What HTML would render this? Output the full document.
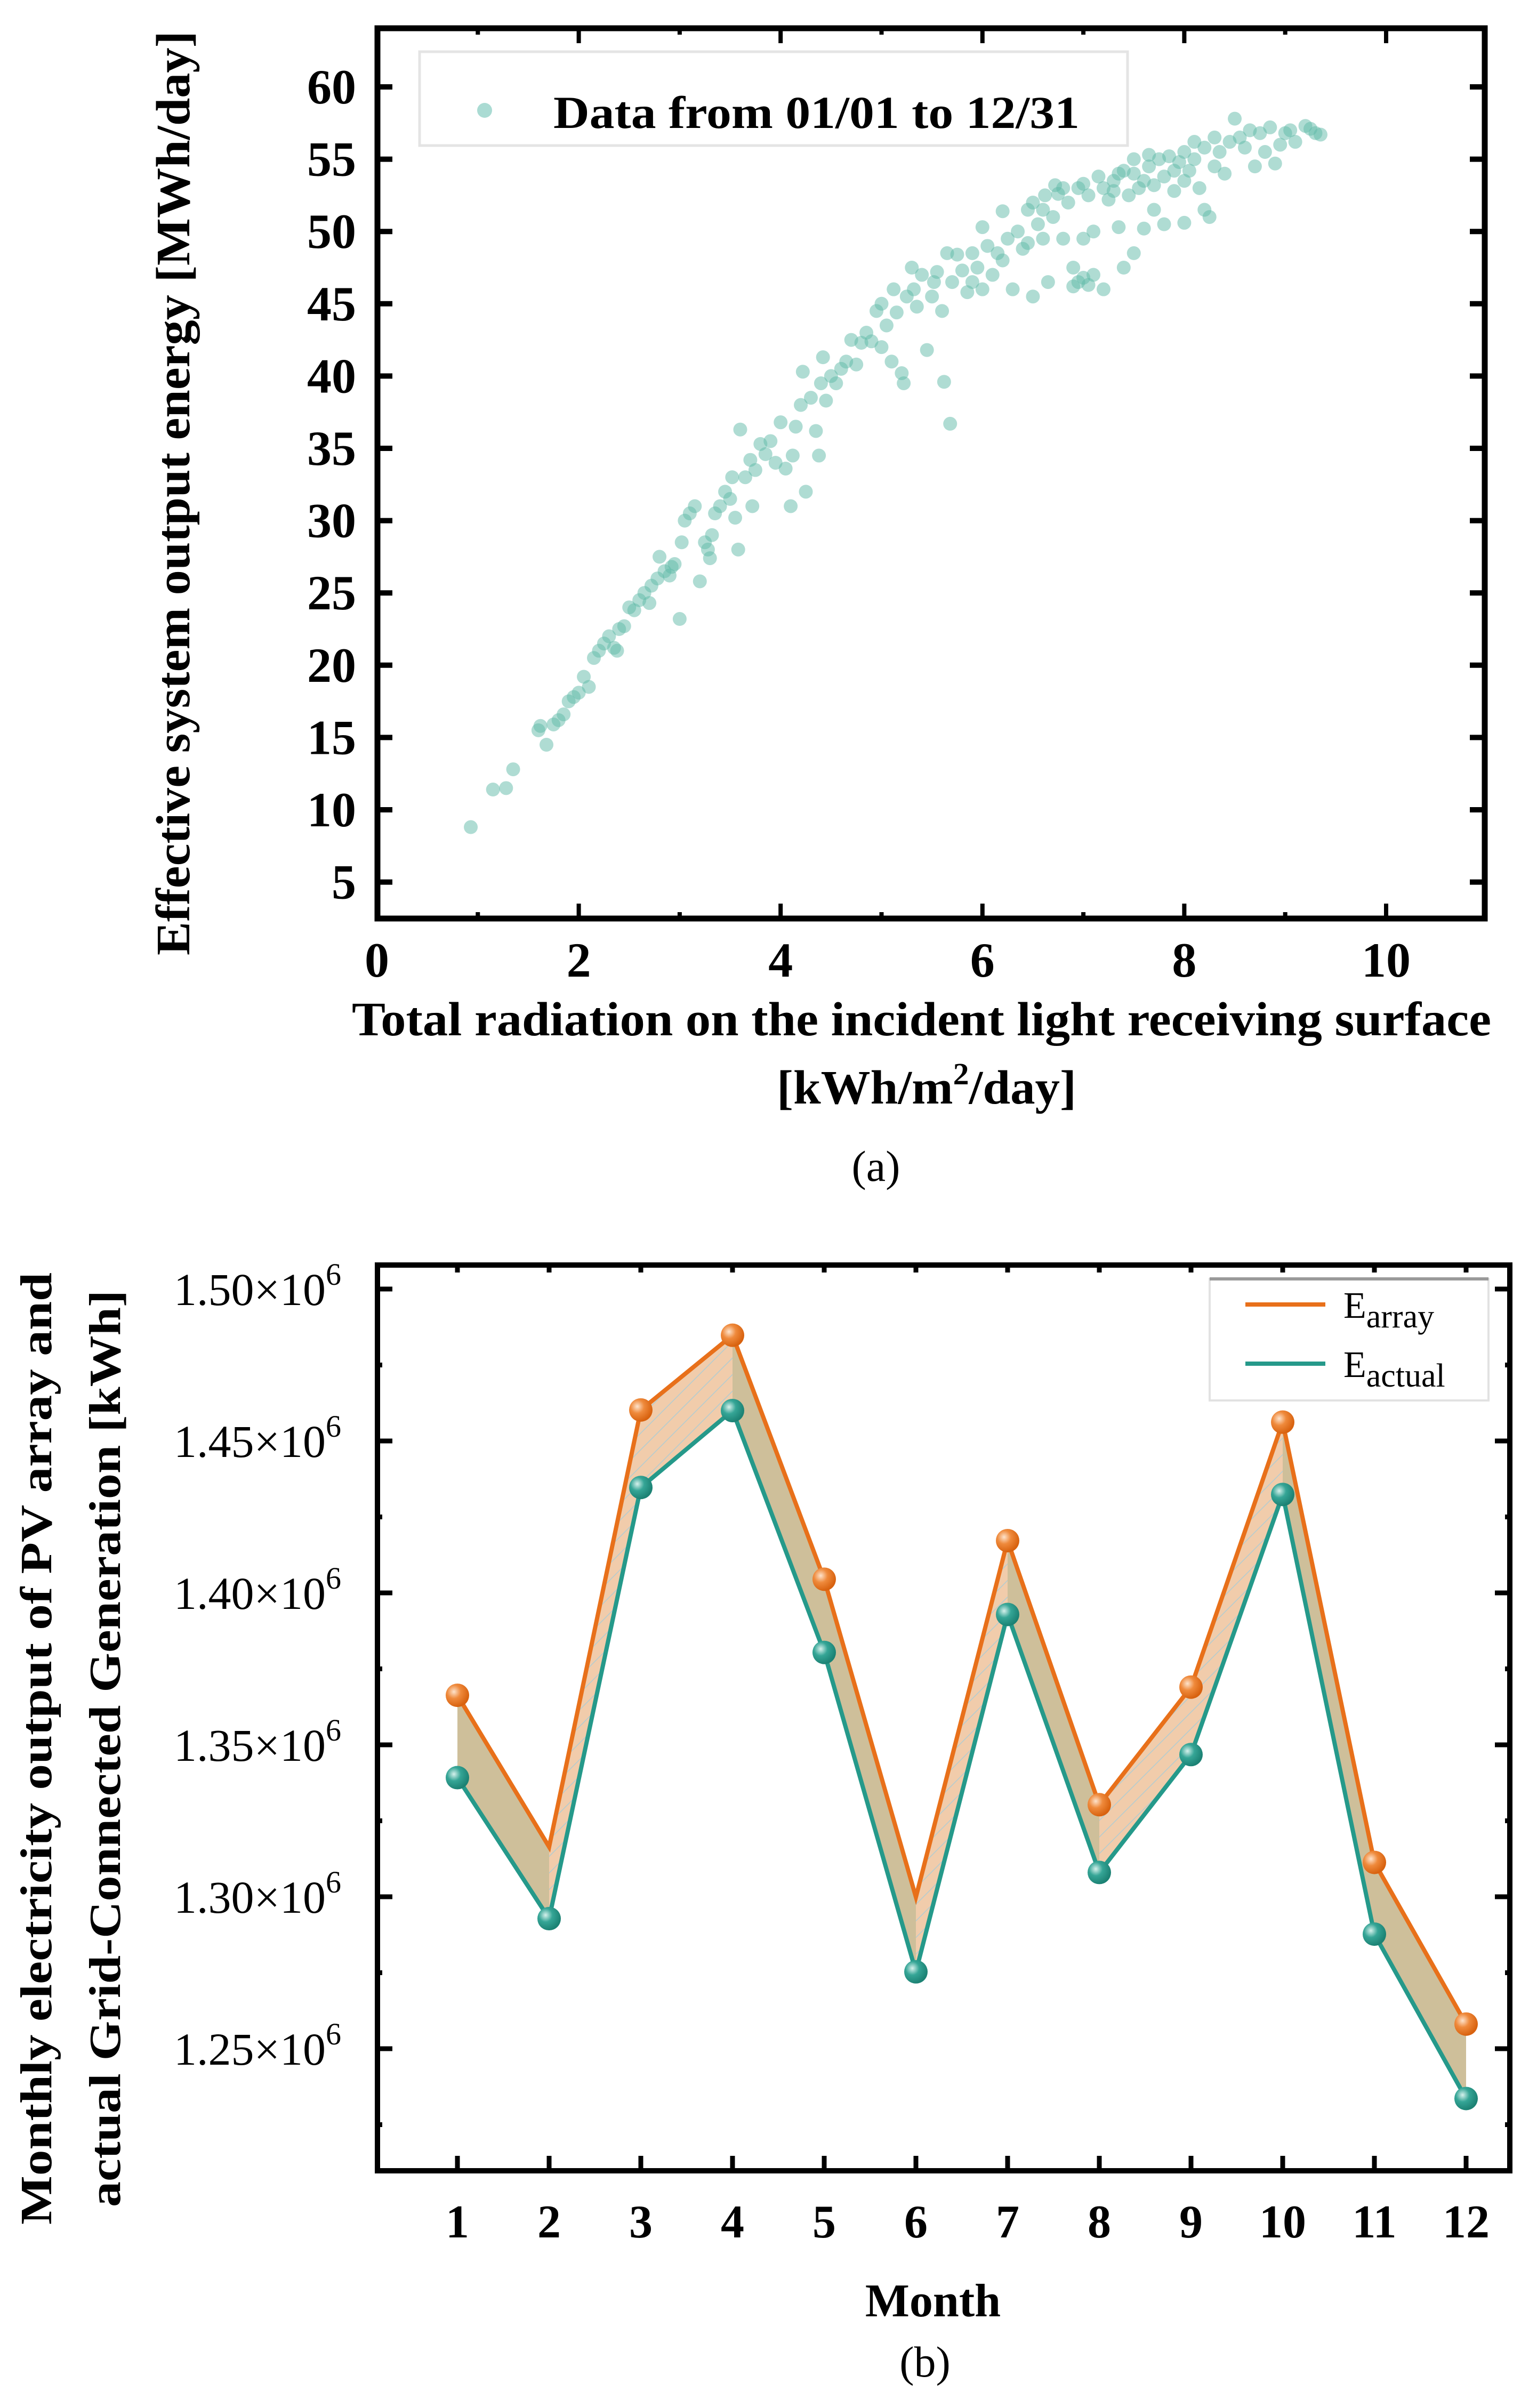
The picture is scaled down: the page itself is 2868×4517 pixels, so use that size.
<!DOCTYPE html>
<html><head><meta charset="utf-8">
<style>
html,body{margin:0;padding:0;background:#fff;}
svg{display:block;}
text{font-family:"Liberation Serif",serif;fill:#000;}
</style></head>
<body>
<svg id="root" width="2868" height="4517" viewBox="0 0 2868 4517" xmlns="http://www.w3.org/2000/svg">
  <g id="chartA"></g>
  <g id="chartB"></g>
</svg>
<script>
// ===== Chart (a) data =====
const scatterX = [0.93,1.15,1.28,1.35,1.6,1.62,1.68,1.75,1.8,1.85,1.9,1.95,2.0,2.05,2.1,2.15,2.2,2.25,2.3,2.35,2.4,2.38,2.45,2.5,2.55,2.6,2.65,2.7,2.72,2.78,2.8,2.85,2.9,2.92,2.95,3.0,3.02,3.05,3.1,3.15,3.2,3.25,3.28,3.3,3.32,3.35,3.4,3.45,3.5,3.52,3.55,3.58,3.6,3.65,3.7,3.72,3.75,3.8,3.85,3.9,3.95,4.0,4.05,4.1,4.12,4.15,4.2,4.22,4.25,4.3,4.35,4.38,4.4,4.42,4.45,4.5,4.55,4.6,4.65,4.7,4.75,4.8,4.85,4.9,4.95,5.0,5.0,5.05,5.1,5.12,5.15,5.2,5.22,5.25,5.3,5.32,5.35,5.4,5.45,5.5,5.52,5.55,5.6,5.62,5.65,5.68,5.7,5.75,5.8,5.85,5.9,5.95,6.0,6.0,6.05,6.1,6.15,6.2,6.25,6.3,6.35,6.4,6.45,6.5,6.5,6.55,6.6,6.62,6.65,6.7,6.72,6.8,6.85,6.9,6.95,6.95,7.0,7.0,7.05,7.1,7.1,7.15,7.2,7.25,7.3,7.35,7.4,7.4,7.45,7.5,7.5,7.55,7.6,7.65,7.7,7.75,7.8,7.8,7.85,7.9,7.95,8.0,8.0,8.05,8.1,8.15,8.2,8.25,8.3,8.3,8.35,8.4,8.45,8.5,8.55,8.6,8.65,8.7,8.75,8.8,8.85,8.9,8.95,9.0,9.05,9.1,9.2,9.25,9.3,9.35,7.2,7.3,7.6,7.9,8.1,6.8,6.6,7.0,7.5,6.45,5.9,6.2,7.7,8.2,6.9,7.05,6.75,7.35,7.65,8.0];
const scatterY = [8.8,11.4,11.5,12.8,15.5,15.8,14.5,15.9,16.2,16.6,17.5,17.8,18.1,19.2,18.5,20.5,21.0,21.5,22.0,21.2,22.5,21.0,22.7,24.0,23.8,24.5,25.0,24.3,25.5,26.0,27.5,26.5,26.2,26.8,27.0,23.2,28.5,30.0,30.5,31.0,25.8,28.5,28.0,27.4,29.0,30.5,31.0,32.0,31.5,33.0,30.2,28.0,36.3,33.0,34.2,31.0,33.5,35.3,34.6,35.5,34.0,36.8,33.6,31.0,34.5,36.5,38.0,40.3,32.0,38.5,36.2,34.5,39.5,41.3,38.3,40.0,39.5,40.5,41.0,42.5,40.8,42.3,43.0,42.4,44.5,45.0,42.0,43.5,41.0,46.0,44.4,40.2,39.5,45.5,47.5,46.0,44.8,47.0,41.8,45.5,46.5,47.2,44.5,39.6,48.5,36.7,46.5,48.4,47.3,45.8,48.5,47.5,50.3,46.0,49.0,47.0,48.5,51.4,49.5,46.0,50.0,48.8,51.5,52.0,45.5,50.5,49.5,52.5,46.5,51.0,53.2,49.5,52.0,47.5,53.0,46.5,49.5,46.8,52.5,50.0,47.0,53.8,46.0,52.2,53.5,50.3,54.2,47.5,52.5,48.5,54.0,53.0,50.2,54.5,53.2,55.0,50.5,53.8,55.2,52.8,54.8,50.6,55.5,54.2,55.0,53.0,55.8,51.0,56.5,54.5,55.5,54.0,56.2,57.8,56.5,55.8,57.0,54.5,56.8,55.5,57.2,54.7,56.0,56.8,57.0,56.2,57.3,57.1,56.8,56.7,53.0,52.8,53.5,54.2,56.2,53.0,51.5,53.3,55.0,49.2,46.5,48.0,51.5,51.5,46.2,46.3,52.6,54.0,55.3,53.5];
const xTicksA = [0,2,4,6,8,10];
const yTicksA = [5,10,15,20,25,30,35,40,45,50,55,60];

// ===== Chart (b) data =====
const months = [1,2,3,4,5,6,7,8,9,10,11,12];
const eArray  = [1.3663,1.3164,1.4602,1.4848,1.4045,1.2999,1.4172,1.3303,1.3690,1.4562,1.3113,1.2581];
const eActual = [1.3392,1.2928,1.4347,1.4600,1.3804,1.2753,1.3929,1.3080,1.3468,1.4324,1.2877,1.2336];
const arrayMarkerShown = [true,false,true,true,true,false,true,true,true,true,true,true];
const yTicksB = [1.25,1.30,1.35,1.40,1.45,1.50];
const yTickLabelsB = ["1.25","1.30","1.35","1.40","1.45","1.50"];

const NS = "http://www.w3.org/2000/svg";
function mk(tag, attrs, parent){
  const el = document.createElementNS(NS, tag);
  for (const k in attrs) el.setAttribute(k, attrs[k]);
  parent.appendChild(el);
  return el;
}

// ---------- Chart A ----------
(function(){
  const g = document.getElementById('chartA');
  const L=708, R=2785, T=53, B=1723;
  const xA = v => 707 + v*189.3;
  const yA = v => 163 + (60 - v)*27.12;

  const leg = mk('rect',{x:787,y:97,width:1328,height:176,fill:'#fff',stroke:'#e4e4e4','stroke-width':5},g);
  
  
  const lm = mk('circle',{cx:909,cy:207,r:14,fill:'rgba(100,190,175,0.55)'},g);
  
  
  const lt = mk('text',{x:1038,y:240,'font-size':86,'font-weight':'bold',textLength:987,lengthAdjust:'spacingAndGlyphs'},g);
  lt.textContent='Data from 01/01 to 12/31';
  
  

  for (let i=0;i<scatterX.length;i++){
    const c = mk('circle',{cx:xA(scatterX[i]),cy:yA(scatterY[i]),r:13,fill:'rgba(95,185,168,0.5)'},g);
    
    
  }

  const fr = mk('rect',{x:L,y:T,width:R-L,height:B-T,fill:'none',stroke:'#000','stroke-width':11},g);
  
  

  for (let v=1; v<=10; v++){
    const x = xA(v), len = (v%2===0)?28:12;
    mk('line',{x1:x,y1:B,x2:x,y2:B-len,stroke:'#000','stroke-width':8},g);
    mk('line',{x1:x,y1:T,x2:x,y2:T+len,stroke:'#000','stroke-width':8},g);
  }
  xTicksA.forEach(v=>{
    const t = mk('text',{x:xA(v),y:1832,'font-size':92,'font-weight':'bold','text-anchor':'middle'},g);
    t.textContent = String(v);
    
    
  });
  yTicksA.forEach(v=>{
    const y = yA(v);
    mk('line',{x1:L,y1:y,x2:L+28,y2:y,stroke:'#000','stroke-width':10},g);
    mk('line',{x1:R,y1:y,x2:R-28,y2:y,stroke:'#000','stroke-width':10},g);
    const t = mk('text',{x:668,y:y+31,'font-size':92,'font-weight':'bold','text-anchor':'end'},g);
    t.textContent = String(v);
    
    
  });

  const xt1 = mk('text',{x:660,y:1942,'font-size':90,'font-weight':'bold',textLength:2137,lengthAdjust:'spacingAndGlyphs'},g);
  xt1.textContent='Total radiation on the incident light receiving surface';
  
  
  const xt2 = mk('text',{x:1457,y:2070,'font-size':90,'font-weight':'bold',textLength:562,lengthAdjust:'spacingAndGlyphs'},g);
  xt2.innerHTML='[kWh/m<tspan font-size="58" dy="-36">2</tspan><tspan dy="36">/day]</tspan>';
  
  
  const yt = mk('text',{x:0,y:0,'font-size':90,'font-weight':'bold','text-anchor':'middle',textLength:1734,lengthAdjust:'spacingAndGlyphs',transform:'translate(355,925) rotate(-90)'},g);
  yt.textContent='Effective system output energy [MWh/day]';
  
  
  const cap = mk('text',{x:1643,y:2215,'font-size':82,'text-anchor':'middle'},g);
  cap.textContent='(a)';
  
  
})();

// ---------- Chart B ----------
(function(){
  const g = document.getElementById('chartB');
  const L=708, R=2832, T=2373, B=4072;
  const xB = m => 858 + (m-1)*172;
  const yB = v => 2418 + (1.5 - v)/0.05*285;

  const defs = mk('defs',{},g);
  const pat = mk('pattern',{id:'hatch',width:22,height:22,patternUnits:'userSpaceOnUse',patternTransform:'rotate(45)'},defs);
  mk('rect',{x:0,y:0,width:22,height:22,fill:'#efc7a2'},pat);
  mk('line',{x1:0,y1:0,x2:0,y2:22,stroke:'#a9c6cc','stroke-width':3},pat);
  const grad = mk('radialGradient',{id:'ballO',cx:'35%',cy:'35%',r:'65%'},defs);
  mk('stop',{offset:'0%','stop-color':'#fde3cc'},grad);
  mk('stop',{offset:'45%','stop-color':'#ef8a3c'},grad);
  mk('stop',{offset:'100%','stop-color':'#d8620f'},grad);
  const grad2 = mk('radialGradient',{id:'ballT',cx:'35%',cy:'35%',r:'65%'},defs);
  mk('stop',{offset:'0%','stop-color':'#d6f1ec'},grad2);
  mk('stop',{offset:'45%','stop-color':'#35a596'},grad2);
  mk('stop',{offset:'100%','stop-color':'#1c8274'},grad2);

  for (let i=0;i<months.length-1;i++){
    const rising = eArray[i+1] > eArray[i];
    const pts = [
      [xB(months[i]),yB(eArray[i])],[xB(months[i+1]),yB(eArray[i+1])],
      [xB(months[i+1]),yB(eActual[i+1])],[xB(months[i]),yB(eActual[i])]
    ].map(p=>p.join(',')).join(' ');
    const poly = mk('polygon',{points:pts,fill: rising ? 'url(#hatch)' : '#c9b88f','fill-opacity':0.9},g);
    
    
  }

  const lineA = mk('polyline',{points:months.map((m,i)=>xB(m)+','+yB(eArray[i])).join(' '),fill:'none',stroke:'#e8701a','stroke-width':8,'stroke-linejoin':'miter'},g);
  
  
  const lineT = mk('polyline',{points:months.map((m,i)=>xB(m)+','+yB(eActual[i])).join(' '),fill:'none',stroke:'#25998a','stroke-width':8,'stroke-linejoin':'miter'},g);
  
  

  months.forEach((m,i)=>{
    if (arrayMarkerShown[i]){
      const c = mk('circle',{cx:xB(m),cy:yB(eArray[i]),r:22,fill:'url(#ballO)'},g);
      
      
    }
    const c2 = mk('circle',{cx:xB(m),cy:yB(eActual[i]),r:22,fill:'url(#ballT)'},g);
    
    
  });

  const leg = mk('rect',{x:2269,y:2399,width:523,height:228,fill:'#fff',stroke:'#e2e2e2','stroke-width':4},g);
  
  
  mk('line',{x1:2269,y1:2399,x2:2792,y2:2399,stroke:'#9a9a9a','stroke-width':6},g);
  mk('line',{x1:2336,y1:2447,x2:2486,y2:2447,stroke:'#e8701a','stroke-width':8},g);
  mk('line',{x1:2336,y1:2558,x2:2486,y2:2558,stroke:'#25998a','stroke-width':8},g);
  const la = mk('text',{x:2520,y:2472,'font-size':70},g);
  la.innerHTML='E<tspan font-size="62" dy="18">array</tspan>';
  
  
  const lb = mk('text',{x:2520,y:2583,'font-size':70},g);
  lb.innerHTML='E<tspan font-size="62" dy="18">actual</tspan>';
  
  

  const fr = mk('rect',{x:L,y:T,width:R-L,height:B-T,fill:'none',stroke:'#000','stroke-width':10},g);
  
  

  months.forEach(m=>{
    const x=xB(m);
    mk('line',{x1:x,y1:B,x2:x,y2:B-28,stroke:'#000','stroke-width':9},g);
    mk('line',{x1:x,y1:T,x2:x,y2:T+14,stroke:'#000','stroke-width':9},g);
    const t = mk('text',{x:x,y:4197,'font-size':88,'font-weight':'bold','text-anchor':'middle'},g);
    t.textContent=String(m);
    
    
  });
  for (let v=1.225; v<1.51; v+=0.025){
    const y=yB(v);
    const major = Math.abs((v*1000)%50) < 1 || Math.abs((v*1000)%50-50) < 1;
    const len = major?28:9;
    mk('line',{x1:L,y1:y,x2:L+len,y2:y,stroke:'#000','stroke-width':9},g);
    mk('line',{x1:R,y1:y,x2:R-len,y2:y,stroke:'#000','stroke-width':9},g);
  }
  yTicksB.forEach((v,i)=>{
    const y=yB(v);
    const t = mk('text',{x:326,y:y+30,'font-size':86},g);
    t.innerHTML=yTickLabelsB[i]+'×10<tspan font-size="58" dy="-38">6</tspan>';
    
    
  });

  const xt = mk('text',{x:1750,y:4345,'font-size':88,'font-weight':'bold','text-anchor':'middle'},g);
  xt.textContent='Month';
  
  
  const y1 = mk('text',{x:0,y:0,'font-size':84,'font-weight':'bold','text-anchor':'middle',textLength:1786,lengthAdjust:'spacingAndGlyphs',transform:'translate(96,3280) rotate(-90)'},g);
  y1.textContent='Monthly electricity output of PV array and';
  
  
  const y2 = mk('text',{x:0,y:0,'font-size':84,'font-weight':'bold','text-anchor':'middle',textLength:1720,lengthAdjust:'spacingAndGlyphs',transform:'translate(225,3280) rotate(-90)'},g);
  y2.textContent='actual Grid-Connected Generation [kWh]';
  
  
  const cap = mk('text',{x:1735,y:4458,'font-size':82,'text-anchor':'middle'},g);
  cap.textContent='(b)';
  
  
})();
</script>
</body></html>
